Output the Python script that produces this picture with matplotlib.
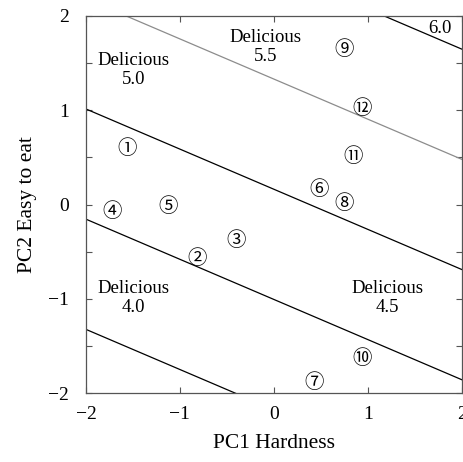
import numpy as np
import matplotlib
import matplotlib.pyplot as plt
from matplotlib.ticker import MultipleLocator

plt.rcParams['font.family'] = ['Liberation Serif', 'DejaVu Serif']
plt.rcParams['mathtext.fontset'] = 'stix'

# samples: circled labels and positions on (PC1, PC2)
sample_labels = ['①', '②', '③', '④', '⑤', '⑥', '⑦', '⑧', '⑨', '⑩', '⑪', '⑫']
pc1 = [-1.56, -0.82, -0.40, -1.72, -1.13, 0.48, 0.43, 0.75, 0.75, 0.94, 0.84, 0.94]
pc2 = [0.59, -0.57, -0.38, -0.07, -0.02, 0.16, -1.89, 0.01, 1.64, -1.63, 0.51, 1.02]

# linear "delicious" model: score = b0 + b1*PC1 + b2*PC2
b0, b1, b2 = 4.93, 0.182, 0.428
levels = [4.0, 4.5, 5.0, 5.5, 6.0]
level_colors = ['black', 'black', 'black', '#8c8c8c', 'black']

# region labels
region_text = ['Delicious\n4.0', 'Delicious\n4.5', 'Delicious\n5.0', 'Delicious\n5.5', '6.0']
region_x = [-1.49, 1.21, -1.49, -0.09, 1.77]
region_y = [-0.99, -0.99, 1.43, 1.67, 1.87]

fig = plt.figure(figsize=(4.63, 4.62), dpi=100)
ax = fig.add_axes([0.1857, 0.1487, 0.8113, 0.8167])

xs = np.linspace(-2.5, 2.5, 50)
for lev, col in zip(levels, level_colors):
    ax.plot(xs, (lev - b0 - b1 * xs) / b2, color=col, lw=0.9)

for lab, x, y in zip(sample_labels, pc1, pc2):
    ax.text(x, y, lab, ha='center', va='center', fontsize=14,
            family=['Noto Sans CJK JP', 'DejaVu Sans'])

for t, x, y in zip(region_text, region_x, region_y):
    ax.text(x, y, t, ha='center', va='center', fontsize=13.5, linespacing=1.15)

ax.set_xlim(-2, 2)
ax.set_ylim(-2, 2)
ax.xaxis.set_major_locator(MultipleLocator(1))
ax.yaxis.set_major_locator(MultipleLocator(1))
ax.yaxis.set_minor_locator(MultipleLocator(0.5))
ax.tick_params(which='both', direction='in', top=True, right=True,
               length=4, width=0.8, color='#555555')
ax.tick_params(axis='x', labelsize=14, pad=9)
ax.tick_params(axis='y', labelsize=14, pad=12)
for s in ax.spines.values():
    s.set_color('#555555')
    s.set_linewidth(0.9)

ax.set_xlabel('PC1 Hardness', fontsize=15.5, labelpad=8)
ax.set_ylabel('PC2 Easy to eat', fontsize=15.5, labelpad=8)

plt.savefig('out.png')
